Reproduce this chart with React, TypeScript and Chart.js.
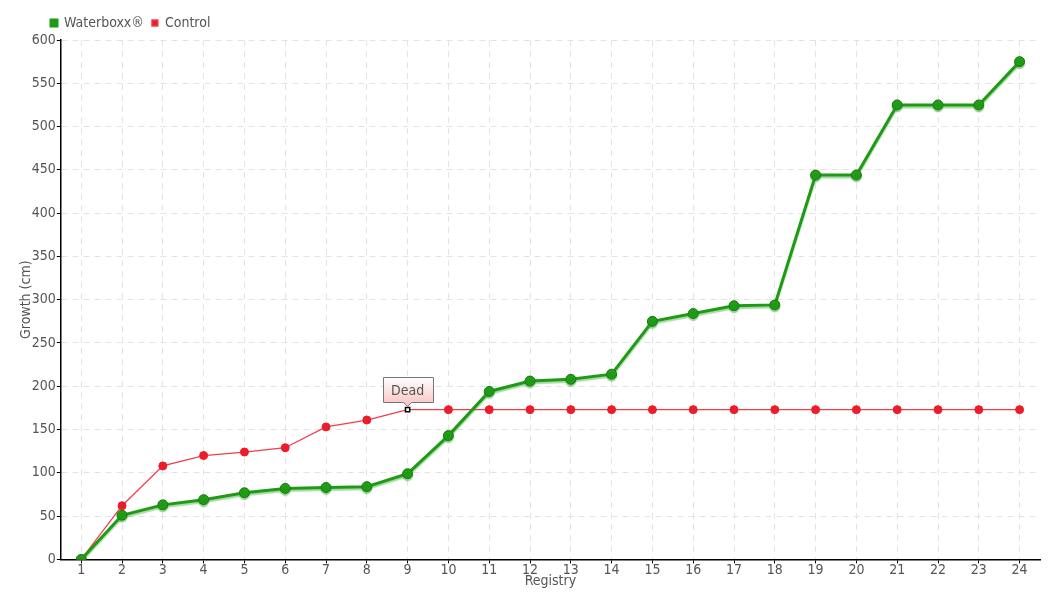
import React, { useEffect, useRef } from "react";
import { Chart, registerables } from "chart.js";

Chart.register(...registerables);

const registries = ["1","2","3","4","5","6","7","8","9","10","11","12","13","14","15","16","17","18","19","20","21","22","23","24"];
const waterboxx = [0, 51, 63, 69, 77, 82, 83, 84, 99, 143, 194, 206, 208, 214, 275, 284, 293, 294, 444, 444, 525, 525, 525, 575];
const control = [0, 62, 108, 120, 124, 129, 153, 161, 173, 173, 173, 173, 173, 173, 173, 173, 173, 173, 173, 173, 173, 173, 173, 173];
const seriesNames = ["Waterboxx®", "Control"];
const deadIndex = 8;
const deadLabel = "Dead";
const yTitle = "Growth (cm)";
const xTitle = "Registry";

const GREEN = "rgb(30,155,20)";
const GREEN_DARK = "rgb(25,120,18)";
const RED = "rgb(236,28,42)";
const RED_LINE = "rgb(245,60,75)";
const TEXT = "#555";
const FONT = "'Liberation Sans Narrow', 'DejaVu Sans Condensed', 'Roboto Condensed', sans-serif";

const shadowPlugin = {
  id: "greenShadow",
  beforeDatasetDraw(chart: any, args: any) {
    if (args.index === 0) {
      const ctx = chart.ctx;
      ctx.save();
      ctx.shadowColor = "rgba(60,170,50,0.45)";
      ctx.shadowOffsetY = 2;
      ctx.shadowOffsetX = 0;
      ctx.shadowBlur = 1;
    }
  },
  afterDatasetDraw(chart: any, args: any) {
    if (args.index === 0) chart.ctx.restore();
  },
};

const legendShift = {
  id: "legendShift",
  afterLayout(chart: any) {
    const lg = chart.legend;
    if (lg) {
      lg.left += 31;
      lg.right += 31;
    }
  },
};

const deadPlugin = {
  id: "deadNote",
  afterDatasetsDraw(chart: any) {
    const ctx = chart.ctx;
    const xs = chart.scales.x;
    const ys = chart.scales.y;
    const px = xs.getPixelForValue(deadIndex);
    const py = ys.getPixelForValue(control[deadIndex]);
    ctx.save();
    ctx.font = `14px ${FONT}`;
    const w = 50;
    const h = 25;
    const left = Math.round(px - w / 2) + 0.5;
    const bottom = Math.round(py - 8) + 0.5;
    const top = bottom - h;
    const g = ctx.createLinearGradient(0, top, 0, bottom);
    g.addColorStop(0, "#ffffff");
    g.addColorStop(1, "#f9c9c9");
    ctx.beginPath();
    ctx.moveTo(left, top);
    ctx.lineTo(left + w, top);
    ctx.lineTo(left + w, bottom);
    ctx.lineTo(px + 4, bottom);
    ctx.lineTo(px, bottom + 4);
    ctx.lineTo(px - 4, bottom);
    ctx.lineTo(left, bottom);
    ctx.closePath();
    ctx.fillStyle = g;
    ctx.fill();
    ctx.strokeStyle = "#777";
    ctx.lineWidth = 1;
    ctx.stroke();
    ctx.fillStyle = TEXT;
    ctx.textAlign = "center";
    ctx.textBaseline = "middle";
    ctx.fillText(deadLabel, px, top + h / 2 + 1);
    ctx.restore();
  },
};

export default function App() {
  const ref = useRef<HTMLCanvasElement>(null);
  useEffect(() => {
    document.body.style.margin = "0";
    const chart = new Chart(ref.current!, {
      type: "line",
      data: {
        labels: registries,
        datasets: [
          {
            label: seriesNames[0],
            data: waterboxx,
            borderColor: GREEN,
            backgroundColor: GREEN,
            borderWidth: 3,
            pointRadius: 5,
            pointBackgroundColor: GREEN,
            pointBorderColor: GREEN_DARK,
            pointBorderWidth: 1,
            tension: 0,
          },
          {
            label: seriesNames[1],
            data: control,
            borderColor: RED_LINE,
            backgroundColor: RED,
            borderWidth: 1.3,
            pointRadius: (c: any) => (c.dataIndex === deadIndex ? 3 : 4),
            pointStyle: (c: any) => (c.dataIndex === deadIndex ? "rect" : "circle"),
            pointBackgroundColor: (c: any) => (c.dataIndex === deadIndex ? "#fff" : RED),
            pointBorderColor: (c: any) => (c.dataIndex === deadIndex ? "#000" : RED),
            pointBorderWidth: (c: any) => (c.dataIndex === deadIndex ? 1.5 : 1),
            tension: 0,
          },
        ],
      },
      options: {
        animation: false,
        responsive: false,
        devicePixelRatio: 1,
        layout: { padding: { left: 12, right: 20, top: 8, bottom: 5 } },
        plugins: {
          legend: {
            position: "top",
            align: "start",
            labels: {
              boxWidth: 6,
              boxHeight: 6,
              padding: 8,
              color: TEXT,
              font: { family: FONT, size: 14 },
            },
          },
          tooltip: { enabled: false },
        },
        scales: {
          x: {
            type: "category",
            offset: true,
            grid: {
              color: "#e3e3e3",
              tickColor: "#000",
              tickLength: 4,
              offset: false,
            },
            border: { color: "#000", width: 1.5, dash: [6, 5] },
            ticks: { color: TEXT, font: { family: FONT, size: 14 }, padding: -1, maxRotation: 0 },
            title: { display: true, text: xTitle, color: TEXT, font: { family: FONT, size: 14 }, padding: { top: -5, bottom: 5 } },
          },
          y: {
            min: 0,
            max: 600,
            grid: { color: "#e3e3e3", tickColor: "#000", tickLength: 4 },
            border: { color: "#000", width: 1.5, dash: [6, 5] },
            ticks: { stepSize: 50, color: TEXT, font: { family: FONT, size: 14 }, padding: 1 },
            title: { display: true, text: yTitle, color: TEXT, font: { family: FONT, size: 14 }, padding: { top: 6, bottom: -4 } },
          },
        },
      },
      plugins: [shadowPlugin, legendShift, deadPlugin],
    } as any);
    return () => chart.destroy();
  }, []);
  return (
    <div style={{ position: "absolute", left: 0, top: 0, width: 1060, height: 600 }}>
      <canvas ref={ref} width={1060} height={600} />
    </div>
  );
}
